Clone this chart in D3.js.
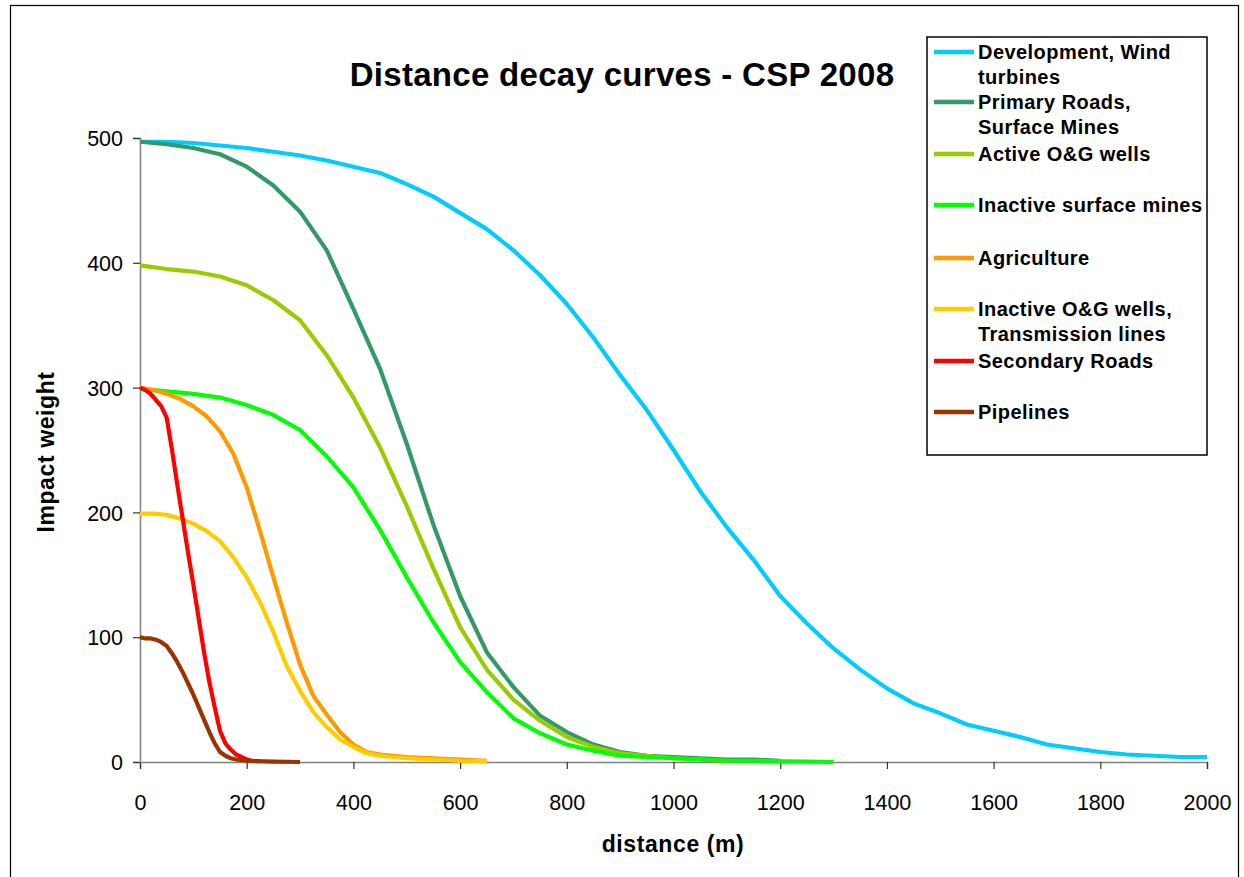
<!DOCTYPE html>
<html>
<head>
<meta charset="utf-8">
<script src="https://cdn.jsdelivr.net/npm/d3@7"></script>
<style>
html,body{margin:0;padding:0;background:#fff;}
svg{display:block;font-family:"Liberation Sans",Arial,sans-serif;}
</style>
</head>
<body>
<svg id="chart" width="1244" height="877"></svg>
<script>
const titleText = "Distance decay curves - CSP 2008";
const xAxisTitle = "distance (m)";
const yAxisTitle = "Impact weight";
const xTicks = [0,200,400,600,800,1000,1200,1400,1600,1800,2000];
const yTicks = [0,100,200,300,400,500];

const seriesNames = [
  ["Development, Wind", "turbines"],
  ["Primary Roads,", "Surface Mines"],
  ["Active O&G wells"],
  ["Inactive surface mines"],
  ["Agriculture"],
  ["Inactive O&G wells,", "Transmission lines"],
  ["Secondary Roads"],
  ["Pipelines"]
];
const seriesColors = ["#00CCFF","#339966","#99CC00","#00FF00","#FF9900","#FFCC00","#FF0000","#993300"];

// Development, Wind turbines (distance step 50 m)
const devX = [0,50,100,150,200,250,300,350,400,450,500,550,600,650,700,750,800,850,900,950,1000,1050,1100,1150,1200,1250,1300,1350,1400,1450,1500,1550,1600,1650,1700,1750,1800,1850,1900,1950,2000];
const devY = [497,497,496,494,492,489,486,482,477,472,463,453,440,427,410,390,367,340,310,282,250,217,188,162,133,111,91,74,59,47,39,30,25,20,14,11,8,6,5,4,4];

// Primary Roads, Surface Mines
const primX = [0,50,100,150,200,250,300,350,400,450,500,550,600,650,700,750,800,850,900,950,1000,1050,1100,1150,1200];
const primY = [497,495,492,487,477,462,441,410,363,315,255,190,133,88,60,37,24,14,8,5,4,3,2,2,1];

// Active O&G wells
const activeX = [0,50,100,150,200,250,300,350,400,450,500,550,600,650,700,750,800,850,900,950,1000,1050,1100];
const activeY = [398,395,393,389,382,370,354,326,292,252,205,155,108,74,50,33,20,12,7,5,3,2,1];

// Inactive surface mines
const mineX = [0,50,100,150,200,250,300,350,400,450,500,550,600,650,700,750,800,850,900,950,1000,1050,1100,1150,1200,1250,1300];
const mineY = [299,297,295,292,286,278,266,245,220,186,148,112,80,56,35,23,14,9,5,4,3,2,1,1,0.5,0.3,0];

// Agriculture
const agriX = [0,25,50,75,100,125,150,175,200,225,250,275,300,325,350,375,400,425,450,500,550,600,650];
const agriY = [300,298,295,291,285,277,265,247,220,185,148,112,78,53,38,24,14,8,6,4,3,2,1];

// Inactive O&G wells, Transmission lines
const inactX = [0,25,50,75,100,125,150,175,200,225,250,275,300,325,350,375,400,425,450,500,550,600,650];
const inactY = [199,199,198,195,191,185,177,164,148,128,104,77,57,40,28,18,12,7,5,3,2,1,0.5];

// Secondary Roads
const secX = [0,10,20,30,40,50,60,70,80,90,100,110,120,130,140,150,160,170,180,190,200,210,225];
const secY = [300,298,295,290,285,276,250,222,195,168,142,115,88,64,44,25,15,10,6,4,2,1,0.5];

// Pipelines
const pipeX = [0,10,20,30,40,50,60,70,80,90,100,110,120,130,140,150,160,170,180,200,250,300];
const pipeY = [100,99,99,98,96,93,87,80,72,63,54,44,34,24,15,8,5,3,2,1,0.3,0];

const seriesX = [devX,primX,activeX,mineX,agriX,inactX,secX,pipeX];
const seriesY = [devY,primY,activeY,mineY,agriY,inactY,secY,pipeY];

const svg = d3.select("#chart");
const plot = {left:140, right:1207, top:138, bottom:762};

// outer frame
svg.append("rect").attr("x",10.5).attr("y",5.5).attr("width",1228).attr("height",900)
  .attr("fill","#fff").attr("stroke","#000").attr("stroke-width",1.2);

const x = d3.scaleLinear().domain([0,2000]).range([plot.left, plot.right]);
const y = d3.scaleLinear().domain([0,500]).range([plot.bottom, plot.top]);

// axes
const xAxis = d3.axisBottom(x).tickValues(xTicks).tickSize(7).tickPadding(26).tickFormat(d3.format("d"));
const yAxis = d3.axisLeft(y).tickValues(yTicks).tickSize(7).tickPadding(10).tickFormat(d3.format("d"));

const gx = svg.append("g").attr("transform",`translate(0,${plot.bottom})`).call(xAxis);
const gy = svg.append("g").attr("transform",`translate(${plot.left},0)`).call(yAxis);
[gx,gy].forEach(g=>{
  g.select(".domain").attr("stroke","#808080").attr("stroke-width",1.5);
  g.selectAll(".tick line").attr("stroke","#333").attr("stroke-width",1.2);
  g.selectAll(".tick text").attr("fill","#000").style("font-size","21.5px")
    .style("font-family","'Liberation Sans',Arial,sans-serif");
});
gy.selectAll(".tick text").attr("dy","0.36em");

// lines
const line = d3.line().x(d=>x(d[0])).y(d=>y(d[1]));
seriesX.forEach((xs,i)=>{
  const pts = xs.map((d,k)=>[d, seriesY[i][k]]);
  svg.append("path").datum(pts).attr("d",line)
    .attr("fill","none").attr("stroke",seriesColors[i]).attr("stroke-width",4.2)
    .attr("stroke-linejoin","round").attr("stroke-linecap","butt");
});

// title
svg.append("text").attr("x",622).attr("y",86).attr("text-anchor","middle")
  .style("font-size","33px").style("font-weight","bold").style("letter-spacing","0.3px").text(titleText);

// axis titles
svg.append("text").attr("x",673).attr("y",852).attr("text-anchor","middle")
  .style("font-size","23px").style("font-weight","bold").style("letter-spacing","0.6px").text(xAxisTitle);
svg.append("text").attr("transform","translate(54,452) rotate(-90)").attr("text-anchor","middle")
  .style("font-size","23px").style("font-weight","bold").style("letter-spacing","0.6px").text(yAxisTitle);

// legend
const lg = svg.append("g");
lg.append("rect").attr("x",927).attr("y",37).attr("width",280).attr("height",418)
  .attr("fill","#fff").attr("stroke","#000").attr("stroke-width",1.5);
const legY = [52,102,154,205,258,309,361,412];
seriesNames.forEach((lines,i)=>{
  lg.append("line").attr("x1",934).attr("x2",974).attr("y1",legY[i]).attr("y2",legY[i])
    .attr("stroke",seriesColors[i]).attr("stroke-width",4.5);
  lines.forEach((t,j)=>{
    lg.append("text").attr("x",978).attr("y",legY[i]+7+j*25)
      .style("font-size","20px").style("font-weight","bold").style("letter-spacing","0.45px").text(t);
  });
});
</script>
</body>
</html>
